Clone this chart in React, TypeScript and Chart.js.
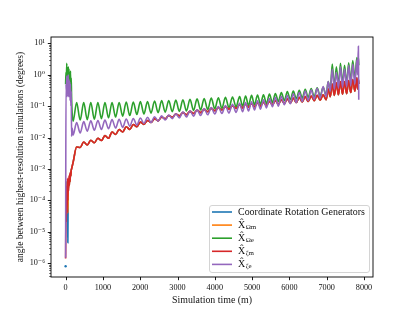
import React, { useEffect, useRef } from "react";
import { Chart, registerables } from "chart.js";
Chart.register(...registerables);

// ---------- data ----------
const timeStart = [0, 10, 20, 30, 40, 50, 60, 70, 80, 90, 100, 110, 120, 130, 140, 150, 160, 175];
const timeOsc = [
  200, 295, 390, 485, 580, 675, 770, 865, 960, 1055,
  1150, 1245, 1340, 1435, 1530, 1625, 1720, 1815, 1910, 2005,
  2100, 2195, 2290, 2385, 2480, 2575, 2670, 2765, 2860, 2955,
  3050, 3145, 3240, 3335, 3430, 3525, 3620, 3715, 3810, 3905,
  4000, 4095, 4190, 4285, 4380, 4475, 4570, 4665,
  4745, 4825,
  4905, 4985, 5065, 5145, 5225, 5305, 5385, 5465, 5545, 5625,
  5705, 5785, 5865, 5945, 6025, 6105, 6185, 6265, 6345, 6425,
  6505, 6585, 6665, 6745, 6825, 6905, 6985,
  7040, 7095, 7150,
  7205, 7260, 7315, 7370, 7425, 7480, 7535, 7590, 7645, 7700,
  7755, 7810,
  7830, 7850, 7860,
];

const blueStart = [8e-7, null, 4e-4, 1e-4, 3e-4, 2.8e-5, 4.5e-6, 2e-4, 3e-4, 5e-4, 3e-4, 6e-4, 4e-4, 8e-4, 6e-4, 9e-4, 1e-3, 1.2e-3];
const orangeStart = [null, null, 3e-4, 1e-4, 4e-4, 1.2e-4, 4e-5, 2e-4, 3e-4, 5e-4, 3e-4, 6e-4, 4e-4, 8e-4, 6e-4, 9e-4, 1e-3, 1.2e-3];
const greenStart = [0.5, 1.2, 0.6, 2.3, 0.5, 1.6, 0.4, 1.8, 0.5, 1.5, 0.4, 1.2, 0.3, 1.3, 0.3, 0.8, 0.2, 0.06];
const redStart = [1.4e-6, 5e-5, 2e-5, 3e-4, 4e-5, 5e-4, 1e-4, 4e-4, 2e-4, 6e-4, 3e-4, 7e-4, 4e-4, 8e-4, 6e-4, 9e-4, 1e-3, 1.2e-3];
const purpleStart = [1.5e-6, 0.5, 0.3, 0.9, 0.2, 0.8, 0.3, 1.0, 0.2, 0.7, 0.2, 0.6, 0.15, 0.5, 0.1, 0.3, 0.011, 0.02];

const greenOsc = [
  0.033, 0.13, 0.036, 0.13, 0.037, 0.13, 0.038, 0.13, 0.04, 0.13,
  0.042, 0.13, 0.045, 0.13, 0.048, 0.135, 0.05, 0.135, 0.054, 0.14,
  0.056, 0.14, 0.06, 0.145, 0.062, 0.15, 0.064, 0.15, 0.066, 0.155,
  0.068, 0.16, 0.07, 0.165, 0.073, 0.17, 0.075, 0.175, 0.078, 0.18,
  0.082, 0.185, 0.085, 0.19, 0.09, 0.195, 0.095, 0.2,
  0.1, 0.21,
  0.105, 0.22, 0.11, 0.225, 0.115, 0.23, 0.12, 0.24, 0.13, 0.25,
  0.14, 0.27, 0.15, 0.29, 0.16, 0.3, 0.17, 0.32, 0.18, 0.34,
  0.19, 0.36, 0.2, 0.38, 0.21, 0.4, 0.22,
  0.6, 0.3, 2.2,
  0.4, 1.8, 0.45, 2.3, 0.5, 2.0, 0.5, 2.4, 0.6, 2.8,
  0.7, 3.5,
  1.2, 3.5, 2.0,
];
const redOsc = [
  0.0016, 0.005, 0.0048, 0.0072, 0.0058, 0.0082, 0.0068, 0.0095, 0.008, 0.0115,
  0.0095, 0.015, 0.0125, 0.018, 0.015, 0.022, 0.018, 0.026, 0.022, 0.031,
  0.026, 0.035, 0.03, 0.04, 0.034, 0.045, 0.039, 0.05, 0.044, 0.056,
  0.049, 0.062, 0.053, 0.068, 0.058, 0.074, 0.062, 0.079, 0.066, 0.085,
  0.071, 0.09, 0.075, 0.096, 0.08, 0.102, 0.085, 0.108,
  0.088, 0.115,
  0.092, 0.12, 0.095, 0.126, 0.1, 0.133, 0.105, 0.14, 0.11, 0.15,
  0.115, 0.16, 0.12, 0.17, 0.125, 0.18, 0.13, 0.19, 0.135, 0.2,
  0.14, 0.21, 0.15, 0.22, 0.155, 0.23, 0.16,
  0.35, 0.2, 0.5,
  0.22, 0.55, 0.23, 0.6, 0.24, 0.6, 0.25, 0.65, 0.27, 0.7,
  0.3, 0.8,
  0.35, 0.7, 0.5,
];
const purpleOsc = [
  0.012, 0.03, 0.014, 0.032, 0.016, 0.034, 0.017, 0.035, 0.018, 0.036,
  0.019, 0.037, 0.02, 0.038, 0.021, 0.039, 0.023, 0.04, 0.025, 0.042,
  0.028, 0.044, 0.03, 0.046, 0.033, 0.049, 0.036, 0.052, 0.04, 0.057,
  0.042, 0.066, 0.045, 0.071, 0.048, 0.077, 0.05, 0.083, 0.053, 0.09,
  0.056, 0.097, 0.058, 0.105, 0.06, 0.115, 0.063, 0.122,
  0.066, 0.13,
  0.07, 0.138, 0.075, 0.148, 0.08, 0.16, 0.088, 0.175, 0.095, 0.19,
  0.1, 0.205, 0.11, 0.22, 0.12, 0.245, 0.13, 0.27, 0.14, 0.3,
  0.15, 0.33, 0.165, 0.37, 0.18, 0.42, 0.2,
  0.6, 0.3, 1.5,
  0.35, 1.2, 0.38, 1.8, 0.4, 1.5, 0.42, 2.0, 0.45, 2.2,
  0.5, 3.0,
  1.0, 8, 0.16,
];
// blue and orange coincide with the red curve after the start-up phase
const blueOsc = redOsc;
const orangeOsc = redOsc;

const xTicks = [0, 1000, 2000, 3000, 4000, 5000, 6000, 7000, 8000];
const yDecades = [-6, -5, -4, -3, -2, -1, 0, 1];

const seriesNames = ["Coordinate Rotation Generators", "X\u0302", "X\u0302", "X\u0302", "X\u0302"];
const seriesSubs = ["", "\u03A9m", "\u03A9e", "\u03B6m", "\u03B6e"];
const seriesColors = ["#1f77b4", "#ff7f0e", "#2ca02c", "#d62728", "#9467bd"];

const xTitle = "Simulation time (m)";
const yTitle = "angle between highest-resolution simulations (degrees)";

// ---------- layout ----------
const W = 415, H = 311;
const AREA = { left: 51, top: 37, right: 373, bottom: 277 };
const X_MIN = -392, X_MAX = 8242;
const Y_MIN = Math.pow(10, -6.44), Y_MAX = Math.pow(10, 1.2);
const FONT = '"Liberation Serif", "DejaVu Serif", serif';

const SUP: Record<string, string> = { "-": "\u207B", "0": "\u2070", "1": "\u00B9", "2": "\u00B2", "3": "\u00B3", "4": "\u2074", "5": "\u2075", "6": "\u2076", "7": "\u2077", "8": "\u2078", "9": "\u2079" };
const sup = (s: string) => s.split("").map((c) => SUP[c] || c).join("");

function fitSize(text: string, target: number) {
  const c = document.createElement("canvas").getContext("2d")!;
  c.font = `100px ${FONT}`;
  return (100 * target) / c.measureText(text).width;
}

function pts(times: number[], vals: (number | null)[]) {
  return times.map((t, i) => ({ x: t, y: vals[i] }));
}

export default function App() {
  const ref = useRef<HTMLCanvasElement>(null);
  useEffect(() => {
    const tickSize = 8.2;
    const xTitleSize = fitSize(xTitle, 80);
    const yTitleSize = fitSize(yTitle, 211);
    const legendSize = fitSize(seriesNames[0], 127);

    const times = [...timeStart, ...timeOsc];
    const all = [
      [...blueStart, ...blueOsc],
      [...orangeStart, ...orangeOsc],
      [...greenStart, ...greenOsc],
      [...redStart, ...redOsc],
      [...purpleStart, ...purpleOsc],
    ];

    const framePlugin = {
      id: "frame",
      afterDraw(chart: any) {
        const { ctx, chartArea: a, scales } = chart;
        ctx.save();
        ctx.strokeStyle = "#000";
        ctx.lineWidth = 0.9;
        ctx.strokeRect(a.left, a.top, a.right - a.left, a.bottom - a.top);
        for (const t of scales.y.ticks) {
          const lg = Math.log10(t.value);
          const major = Math.abs(lg - Math.round(lg)) < 1e-6;
          const py = Math.round(scales.y.getPixelForValue(t.value)) + 0.5;
          const len = major ? 3.2 : 1.8;
          ctx.lineWidth = major ? 0.9 : 0.6;
          ctx.beginPath();
          ctx.moveTo(a.left - len, py);
          ctx.lineTo(a.left, py);
          ctx.stroke();
        }
        ctx.lineWidth = 0.9;
        for (const t of scales.x.ticks) {
          const px = Math.round(scales.x.getPixelForValue(t.value)) + 0.5;
          ctx.beginPath();
          ctx.moveTo(px, a.bottom);
          ctx.lineTo(px, a.bottom + 3.2);
          ctx.stroke();
        }
        // legend
        const lx = 209, ly = 205, lw = 160, lh = 67;
        ctx.beginPath();
        ctx.roundRect(lx + 0.5, ly + 0.5, lw, lh, 2.5);
        ctx.fillStyle = "rgba(255,255,255,0.8)";
        ctx.fill();
        ctx.strokeStyle = "#d4d4d4";
        ctx.lineWidth = 1;
        ctx.stroke();
        for (let i = 0; i < seriesNames.length; i++) {
          const cy = 212 + i * 13.1;
          ctx.strokeStyle = seriesColors[i];
          ctx.lineWidth = 1.6;
          ctx.beginPath();
          ctx.moveTo(212, cy);
          ctx.lineTo(232, cy);
          ctx.stroke();
          ctx.fillStyle = "#111";
          ctx.textBaseline = "middle";
          ctx.textAlign = "left";
          ctx.font = `${legendSize}px ${FONT}`;
          ctx.fillText(seriesNames[i], 238, cy);
          if (seriesSubs[i]) {
            const w = ctx.measureText(seriesNames[i]).width;
            ctx.font = `${legendSize * 0.7}px ${FONT}`;
            ctx.fillText(seriesSubs[i], 238 + w + 0.5, cy + 2);
          }
        }
        ctx.restore();
      },
    };

    const chart = new Chart(ref.current!, {
      type: "line",
      data: {
        datasets: all.map((vals, i) => ({
          label: seriesSubs[i] ? seriesNames[i] + seriesSubs[i] : seriesNames[i],
          data: pts(times, vals),
          borderColor: seriesColors[i],
          backgroundColor: seriesColors[i],
          borderWidth: 1.6,
          pointRadius: i === 0 ? (c: any) => (c.dataIndex === 0 ? 1.2 : 0) : 0,
          pointBorderWidth: 0,
          cubicInterpolationMode: "monotone",
          fill: false,
          spanGaps: false,
          order: 5 - i,
        })),
      },
      options: {
        responsive: false,
        animation: false,
        devicePixelRatio: 1,
        layout: { padding: { left: 0, top: AREA.top, right: W - AREA.right, bottom: 0 } },
        plugins: { legend: { display: false }, tooltip: { enabled: false } },
        scales: {
          x: {
            type: "linear",
            min: X_MIN,
            max: X_MAX,
            grid: { display: false, drawTicks: false },
            border: { display: false },
            afterBuildTicks: (s: any) => {
              s.ticks = xTicks.map((v) => ({ value: v }));
            },
            afterFit: (s: any) => {
              s.height = H - AREA.bottom;
            },
            ticks: {
              autoSkip: false,
              maxRotation: 0,
              padding: 6,
              color: "#111",
              font: { family: FONT, size: tickSize },
              callback: (v: any) => String(v),
            },
            title: {
              display: true,
              text: xTitle,
              color: "#111",
              font: { family: FONT, size: xTitleSize },
              padding: { top: 0, bottom: 11 - 0.6 * xTitleSize },
            },
          },
          y: {
            type: "logarithmic",
            min: Y_MIN,
            max: Y_MAX,
            grid: { display: false, drawTicks: false },
            border: { display: false },
            afterBuildTicks: (s: any) => {
              const out: any[] = [];
              for (let k = -7; k <= 1; k++) {
                for (let m = 1; m <= 9; m++) {
                  const v = m * Math.pow(10, k);
                  if (v >= Y_MIN && v <= Y_MAX) out.push({ value: v, major: m === 1 });
                }
              }
              s.ticks = out;
            },
            afterFit: (s: any) => {
              s.width = AREA.left;
            },
            ticks: {
              autoSkip: false,
              padding: 6,
              color: "#111",
              font: { family: FONT, size: tickSize },
              callback: (v: any) => {
                const lg = Math.log10(v);
                const k = Math.round(lg);
                if (Math.abs(lg - k) < 1e-6 && yDecades.includes(k)) return "10" + sup(String(k));
                return "";
              },
            },
            title: {
              display: true,
              text: yTitle,
              color: "#111",
              font: { family: FONT, size: yTitleSize },
              padding: { top: 20 - 0.6 * yTitleSize, bottom: 0 },
            },
          },
        },
      },
      plugins: [framePlugin],
    } as any);
    return () => chart.destroy();
  }, []);
  return (
    <canvas
      ref={ref}
      width={W}
      height={H}
      style={{ position: "absolute", left: 0, top: 0, width: W, height: H, display: "block" }}
    />
  );
}
